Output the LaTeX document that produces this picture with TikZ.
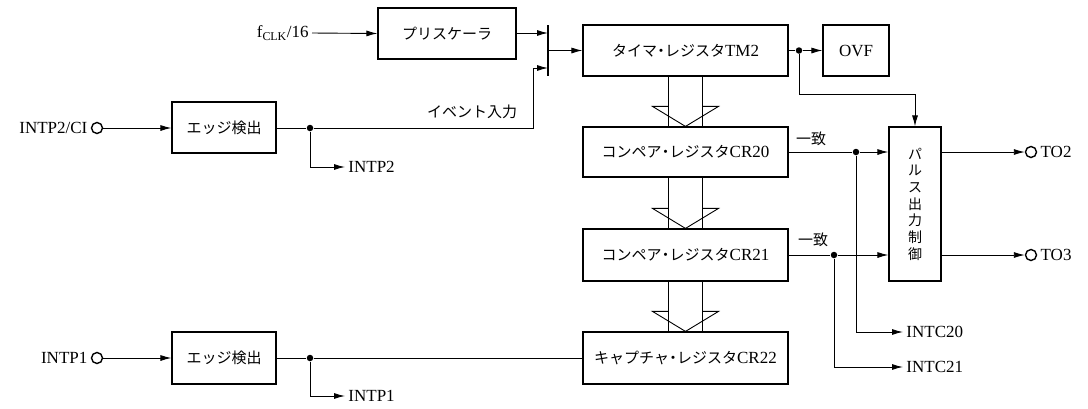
\documentclass[tikz,border=0pt]{standalone}
\usepackage{fontspec}
\setmainfont{Liberation Serif}
\newfontfamily\jpfont{Noto Sans CJK JP}
\usetikzlibrary{arrows.meta,calc}
\newcommand{\jt}[1]{{\jpfont\fontsize{15}{18}\selectfont #1}}
\newcommand{\jdot}{\kern-3.5pt・\kern-3.5pt}
\def\fatarrow(#1)(#2){%
	\path (#1.south) coordinate (fa1) (#2.north) coordinate (fa2);
	\draw ($(fa1)+(-17,0)$) -- ($(fa2)+(-17,0)$);
	\draw ($(fa1)+(17,0)$) -- ($(fa2)+(17,0)$);
	\draw ($(fa2)+(-17,-20)$) -- ($(fa2)+(-33,-20)$) -- (fa2) -- ($(fa2)+(33,-20)$) -- ($(fa2)+(17,-20)$);}
\tikzset{
	blk/.style={draw, line width=1.2pt, inner sep=0pt, minimum width=#1},
	dot/.style={circle, fill=black, inner sep=0pt, minimum size=6.5pt},
	pin/.style={circle, draw, line width=1.4pt, inner sep=0pt, minimum size=11pt},
	lbl/.style={inner sep=3pt, font=\fontsize{17}{20}\selectfont},
	sig/.style={-{Latex[length=11pt,width=6pt]}}
}

\begin{document}
\begin{tikzpicture}[x=1pt, y=-1pt, line width=0.9pt, font=\fontsize{17}{20}\selectfont]
			%%%%% START %%%%%
			\useasboundingbox (0,0) rectangle (1088,408);
			
			% blocks
			\node[blk=138pt, minimum height=51pt] (presc) at (447,33.5) {\jt{プリスケーラ}};
			\node[blk=205pt, minimum height=51pt] (tm2) at (685.5,50.5) {\jt{タイマ\jdot レジスタ}TM2};
			\node[blk=66pt, minimum height=51pt] (ovf) at (856,50.5) {OVF};
			\node[blk=104pt, minimum height=51pt] (edgeA) at (224,127.5) {\jt{エッジ検出}};
			\node[blk=104pt, minimum height=52pt] (edgeB) at (224,358) {\jt{エッジ検出}};
			\node[blk=205pt, minimum height=50pt] (cr20) at (685.5,152) {\jt{コンペア\jdot レジスタ}CR20};
			\node[blk=205pt, minimum height=52pt] (cr21) at (685.5,255) {\jt{コンペア\jdot レジスタ}CR21};
			\node[blk=205pt, minimum height=52pt] (cr22) at (685.5,358) {\jt{キャプチャ\jdot レジスタ}CR22};
			\node[blk=52pt, minimum height=154pt, align=center,
				font=\jpfont\fontsize{14}{16.7}\selectfont] (pulse) at (915,204) {パ\\ル\\ス\\出\\力\\制\\御};
			
			% clock select
			\node[lbl, anchor=east] (fclk) at (312,33) {f\textsubscript{CLK}/16};
			\coordinate (swtop) at (548,25);
			\coordinate (swbot) at (548,76);
			\coordinate (sw1) at (548,33);
			\coordinate (sw2) at (548,68);
			\coordinate (sw3) at (548,50.5);
			\draw[line width=1.4pt] (swtop) -- (swbot);
			\draw[sig] (fclk.east) -- (presc.west);
			\draw[sig] (presc.east |- sw1) -- (sw1);
			\draw[sig] (sw3) -- (tm2.west);
			
			% INTP2/CI
			\node[pin] (pinA) at (97,128) {};
			\node[lbl, anchor=east] (inA) at (pinA.west) {INTP2/CI};
			\draw[sig] (pinA) -- (edgeA.west |- pinA);
			\node[dot] (dA) at (310,128) {};
			\draw (edgeA.east |- dA) -- (dA);
			\coordinate (evt) at (533,128);
			\draw[sig] (dA) -- (evt) |- (sw2);
			\node[font=\jpfont\fontsize{15}{18}\selectfont] (evtx) at (472,112) {イベント入力};
			\node[lbl, anchor=west] (intp2) at (345,167) {INTP2};
			\draw[sig] (dA) |- (intp2.west);
			
			% INTP1
			\node[pin] (pinB) at (97,358) {};
			\node[lbl, anchor=east] (inB) at (pinB.west) {INTP1};
			\draw[sig] (pinB) -- (edgeB.west);
			\node[dot] (dB) at (310,358) {};
			\draw (edgeB.east) -- (dB) -- (cr22.west);
			\node[lbl, anchor=west] (intp1) at (345,396) {INTP1};
			\draw[sig] (dB) |- (intp1.west);
			
			% register transfers
			\fatarrow(tm2)(cr20)
			\fatarrow(cr20)(cr21)
			\fatarrow(cr21)(cr22)
			
			% overflow
			\node[dot] (dT) at (799,50.5) {};
			\coordinate (ovk) at (799,94);
			\draw (tm2.east) -- (dT);
			\draw[sig] (dT) -- (ovf.west);
			\draw[sig] (dT) -- (ovk) -| (pulse.north);
			
			% match outputs
			\node[dot] (d20) at (856,152) {};
			\node[dot] (d21) at (834,255) {};
			\node[font=\jpfont\fontsize{15}{18}\selectfont] (m20) at (811,139) {一致};
			\node[font=\jpfont\fontsize{15}{18}\selectfont] (m21) at (813,240) {一致};
			\draw (cr20.east) -- (d20);
			\draw[sig] (d20) -- (pulse.west |- d20);
			\draw (cr21.east) -- (d21);
			\draw[sig] (d21) -- (pulse.west |- d21);
			\node[lbl, anchor=west] (intc20) at (903,332) {INTC20};
			\node[lbl, anchor=west] (intc21) at (903,367) {INTC21};
			\draw[sig] (d20) |- (intc20.west);
			\draw[sig] (d21) |- (intc21.west);
			
			% timer outputs
			\node[pin] (pinTO2) at (1031,152) {};
			\node[pin] (pinTO3) at (1031,255) {};
			\node[lbl, anchor=west] (to2) at (pinTO2.east) {TO2};
			\node[lbl, anchor=west] (to3) at (pinTO3.east) {TO3};
			\draw[sig] (pulse.east |- pinTO2) -- (pinTO2.west);
			\draw[sig] (pulse.east |- pinTO3) -- (pinTO3.west);
			
			%%%%% END %%%%%
\end{tikzpicture}
\end{document}
